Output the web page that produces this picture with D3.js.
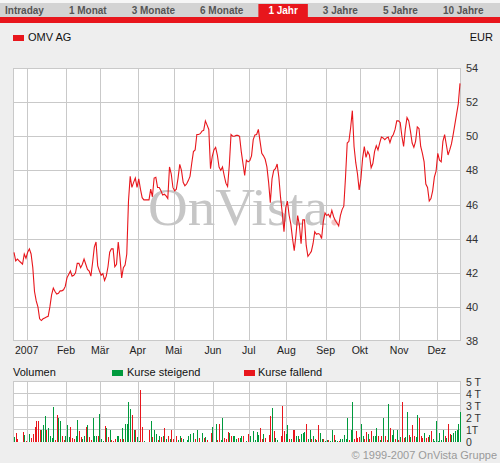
<!DOCTYPE html>
<html><head><meta charset="utf-8">
<script src="https://cdnjs.cloudflare.com/ajax/libs/d3/7.8.5/d3.min.js"></script>
<style>
body{margin:0;background:#eeeeee;}
svg{display:block;font-family:"Liberation Sans",Arial,sans-serif;}
</style></head>
<body><svg id="c" width="500" height="463"></svg>
<script>
// ---------- data ----------
const tabs = ["Intraday","1 Monat","3 Monate","6 Monate","1 Jahr","3 Jahre","5 Jahre","10 Jahre"];
const activeTab = "1 Jahr";
const seriesName = "OMV AG";
const currency = "EUR";
const monthLabels = ["2007","Feb","Mär","Apr","Mai","Jun","Jul","Aug","Sep","Okt","Nov","Dez"];
const priceTicks = [38,40,42,44,46,48,50,52,54];
const volTicks = [0,1,2,3,4,5];
const volTickLabels = ["0","1T","2 T","3 T","4 T","5 T"];
const volLegend = ["Volumen","Kurse steigend","Kurse fallend"];
const copyright = "© 1999-2007 OnVista Gruppe";
const firstDay = new Date(2006,11,20), lastDay = new Date(2007,11,20);

// closing prices, one per weekday (EUR)
const prices = [
43.2,42.7,42.8,42.7,42.6,42.5,43.1,42.85,43.2,43.4,
43.1,42.3,40.9,40.35,40.0,39.3,39.2,39.3,39.35,39.4,
39.45,40.0,40.7,41.1,40.9,40.75,40.8,40.94,40.94,41.0,
41.2,41.7,41.9,42.1,41.8,41.85,42.0,42.55,42.55,42.3,
42.5,42.8,42.5,42.2,42.1,41.8,42.6,43.5,43.8,42.4,
42.1,41.85,41.95,41.55,41.8,42.35,43.2,43.4,43.4,42.35,
42.5,43.8,42.9,41.7,42.3,42.45,43.1,46.2,47.65,47.0,
47.3,47.55,47.0,47.5,46.9,46.4,46.27,46.27,46.27,46.27,
46.9,46.45,47.55,47.6,47.0,47.0,46.8,46.55,46.6,46.5,
46.35,48.2,47.8,47.0,46.8,46.9,47.55,48.35,48.0,47.3,
47.1,47.2,47.4,47.65,48.4,49.1,49.2,50.1,50.1,50.15,
50.3,50.35,50.9,50.65,50.4,48.1,48.8,49.2,49.35,48.9,
48.2,48.0,48.2,47.7,47.25,47.05,48.3,50.1,50.0,50.0,
50.05,50.05,50.0,49.1,48.4,47.7,48.6,48.5,48.57,48.85,
49.8,50.08,50.1,50.4,49.7,49.0,48.85,48.65,48.2,47.3,
46.1,47.5,48.0,48.1,48.37,47.6,46.4,45.5,44.4,45.8,
46.2,45.37,44.85,44.0,43.3,44.2,45.35,44.8,43.7,45.1,
45.1,43.6,42.96,43.1,43.25,43.7,44.4,44.25,44.3,44.25,
44.0,45.0,45.5,45.35,45.42,45.25,45.65,45.3,45.06,44.92,
44.75,45.35,45.7,45.9,47.6,49.6,49.7,50.5,51.5,49.4,
48.45,47.8,46.85,47.5,48.7,49.4,48.76,49.1,48.9,48.15,
48.4,49.1,49.45,49.2,49.6,49.95,49.9,49.8,49.9,49.95,
49.63,49.95,50.1,50.4,50.9,50.9,50.8,50.0,49.4,50.4,
51.1,50.9,50.3,49.6,49.35,49.7,50.55,50.45,49.4,49.0,
48.5,47.2,47.0,46.2,46.35,46.8,47.6,47.95,49.0,48.6,
48.5,49.7,50.1,49.5,48.9,49.2,49.55,50.1,50.7,51.3,
51.9,53.1
];

// volume per weekday (millions, "T")
const volumes = [
0.36,0.72,0.2,0,0,0.8,0.53,0.05,0,0.6,
0.28,0.6,1.2,1.7,1.7,1.0,1.0,1.35,2.1,1.0,
1.1,0.5,0.3,2.85,0.1,2.2,1.95,1.7,0.5,0.1,
0.45,1.35,0.4,1.2,0.28,0.2,0.45,1.8,0.85,0.36,
0.2,0.45,1.2,1.35,0.36,0.1,1.95,0.5,0.45,0.5,
2.3,0.2,0.05,1.3,1.1,0.35,0.95,0.1,0.05,0.2,
0.45,0.45,0.2,1.1,0.2,1.45,1.5,3.3,2.7,2.2,
0.95,1.0,0.36,0.05,4.3,1.2,0.05,0,0,0.95,
1.7,0.36,0.95,0.6,0.1,0.45,0.36,0.45,1.1,0.2,
0.5,0.2,0.95,0.2,0,0.5,0.1,0.45,0.28,0.2,
0,0.1,0.45,0.6,0,0.7,0.2,0.95,0.28,0,
0.7,0.28,0.36,0.1,0,0.7,1.2,0,1.5,0.1,
1.45,0.1,2.0,0.28,0.2,0.78,0.7,0.45,0.45,0.45,
0.2,0.28,0.28,0.5,0.5,0,0.05,0.6,0.5,0,
0.85,0.1,0.78,0.53,1.1,0.2,0.6,0.28,0,0.53,
2.1,2.8,0.85,0.28,0.1,0,0.45,3.0,0.85,0.6,
1.35,0.2,0.2,1.0,1.0,0.45,0.45,0.2,0.6,0.7,
0.78,1.45,0.2,0.95,0.2,0.45,0.2,0.1,1.35,0.7,
0.2,0.2,0.05,0.1,0.1,0.05,1.0,0.53,0.1,0.05,
0.05,0.2,0.2,0.53,0.2,1.95,0.1,1.0,3.3,0.2,
0.85,0.28,0.36,1.5,0.45,0.2,0.78,0.6,0.2,0.85,
0.45,0.45,1.1,0.45,0.1,0.45,2.0,0.45,0.1,3.1,
1.1,0.53,1.0,0.2,1.0,0.1,0.36,3.3,0.28,0.36,
2.45,0.53,0.36,1.35,0.45,0.36,2.2,1.95,0.5,0.28,
0.7,0.28,0.36,0.53,0.85,0.2,0.05,1.7,0.05,0.7,
0.1,1.0,0.45,0.28,1.45,0.6,0.53,0.7,0.85,0.95,
1.5,2.5
];
// g = Kurse steigend, r = Kurse fallend
const volDir = (
"grr..rgr.g"+"rrrrrrgggr"+"ggggrrggrr"+"gggrrrggrr"+"ggrgrrgggr"+
"gggrgrgrrr"+"ggrgrggggr"+"grggrrg..r"+"grggrgrgrg"+"rgrr.rggrg"+
".ggg.grgr."+"grgr.rg.gr"+"rggrrrgrgg"+"grggr.grg."+"ggggrrgr.r"+
"rgrgg.rrrg"+"grgrrggrgg"+"grggrgrgrg"+"grggrggrgg"+"rgggggrggr"+
"rrrggrrgrr"+"gggrgrgrrg"+"rggrgrgrrg"+"grgrrggrrr"+"grrgrggggg"+
"ggrgrrgggg"+"gg").split("");

// ---------- drawing ----------
const RED = "#e8161c", GREEN = "#009a3d", GRID = "#c9c9c9";
const svg = d3.select("#c");

const days = d3.timeDay.range(firstDay, d3.timeDay.offset(lastDay,1)).filter(d => d.getDay()%6 !== 0);
const x = d3.scaleLinear().domain([0, days.length-1]).range([14, 460]);
const y = d3.scaleLinear().domain([38,54]).range([341,68]);
const yv = d3.scaleLinear().domain([0,5]).range([441.5,381.5]);
const monthIdx = [];
days.forEach((d,i)=>{ if(d.getFullYear()===2007 && (i===0 || d.getMonth()!==days[i-1].getMonth())) monthIdx.push(i); });
const px = v => Math.round(v)+0.5;

// tab bar
svg.append("rect").attr("x",0).attr("y",0).attr("width",500).attr("height",3).attr("fill","#f6f6f6");
svg.append("rect").attr("x",0).attr("y",3).attr("width",500).attr("height",14).attr("fill","#d3d3d3");
svg.append("rect").attr("x",0).attr("y",17).attr("width",500).attr("height",6).attr("fill",RED);
const tabG = svg.append("g");
let tx = 5;
tabs.forEach(t=>{
  const txt = tabG.append("text").attr("x",tx).attr("y",14).attr("font-size",10).attr("font-weight","bold")
    .attr("fill", t===activeTab ? "#ffffff" : "#555555").text(t);
  const w = txt.node().getComputedTextLength();
  if(t===activeTab){
    tabG.insert("rect","text").attr("x",tx-10).attr("y",4).attr("width",w+20).attr("height",14).attr("fill",RED);
  }
  tx += w + 25;
});

// legend
svg.append("rect").attr("x",13).attr("y",35).attr("width",11).attr("height",6).attr("fill",RED);
svg.append("text").attr("x",28).attr("y",41).attr("font-size",11).attr("fill","#111").text(seriesName);
svg.append("text").attr("x",493).attr("y",41).attr("font-size",11).attr("fill","#111").attr("text-anchor","end").text(currency);

// price plot
svg.append("rect").attr("x",13.5).attr("y",68.5).attr("width",447).attr("height",272).attr("fill","#fff").attr("stroke",GRID);
const grid = svg.append("g").attr("stroke",GRID).attr("stroke-width",1).attr("shape-rendering","crispEdges");
grid.selectAll(".h").data(priceTicks.slice(1,-1)).join("line")
  .attr("x1",13).attr("x2",461).attr("y1",d=>px(y(d))).attr("y2",d=>px(y(d)));
grid.selectAll(".v").data(monthIdx).join("line")
  .attr("x1",d=>px(x(d)-1)).attr("x2",d=>px(x(d)-1)).attr("y1",68).attr("y2",341);

// watermark
const wm = svg.append("text").attr("x",148).attr("y",225).attr("font-family","'Liberation Serif','Times New Roman',serif")
  .attr("font-size",52).attr("fill","#c6c6c6");
wm.append("tspan").attr("textLength",180).attr("lengthAdjust","spacingAndGlyphs").text("OnVista");
wm.append("tspan").attr("fill","#f2c6c6").text(".");

// price line
svg.append("path").datum(prices).attr("fill","none").attr("stroke",RED).attr("stroke-width",1.1)
  .attr("d", d3.line().x((d,i)=>x(i)).y(d=>y(d)));

// y labels
svg.selectAll(".yl").data(priceTicks).join("text").attr("x",466).attr("y",d=>y(d)+4)
  .attr("font-size",11).attr("fill","#333").text(d=>d);
// x labels
svg.selectAll(".xl").data(monthIdx).join("text").attr("x",d=>x(d)-1).attr("y",354)
  .attr("font-size",10.5).attr("fill","#222").attr("text-anchor","middle").text((d,i)=>monthLabels[i]);

// volume legend
svg.append("text").attr("x",13).attr("y",376).attr("font-size",11).attr("fill","#111").text(volLegend[0]);
svg.append("rect").attr("x",112).attr("y",370).attr("width",11).attr("height",6).attr("fill",GREEN);
svg.append("text").attr("x",127).attr("y",376).attr("font-size",11).attr("fill","#111").text(volLegend[1]);
svg.append("rect").attr("x",244).attr("y",370).attr("width",11).attr("height",6).attr("fill",RED);
svg.append("text").attr("x",258).attr("y",376).attr("font-size",11).attr("fill","#111").text(volLegend[2]);

// volume panel
svg.append("rect").attr("x",13).attr("y",381).attr("width",448).attr("height",61).attr("fill","#fff");
const vgrid = svg.append("g").attr("stroke",GRID).attr("shape-rendering","crispEdges");
vgrid.append("line").attr("x1",13).attr("x2",461).attr("y1",381.5).attr("y2",381.5);
vgrid.append("line").attr("x1",13.5).attr("x2",13.5).attr("y1",381).attr("y2",442);
vgrid.append("line").attr("x1",460.5).attr("x2",460.5).attr("y1",381).attr("y2",442);
vgrid.selectAll(".h").data(volTicks.slice(1,-1)).join("line")
  .attr("x1",13).attr("x2",461).attr("y1",d=>Math.round(yv(d))-0.5).attr("y2",d=>Math.round(yv(d))-0.5);
vgrid.selectAll(".v").data(monthIdx).join("line")
  .attr("x1",d=>px(x(d)-1)).attr("x2",d=>px(x(d)-1)).attr("y1",381).attr("y2",442);

svg.append("g").attr("shape-rendering","crispEdges").selectAll("rect").data(volumes).join("rect")
  .attr("x",(d,i)=>Math.round(x(i))).attr("width",1)
  .attr("y",d=>yv(d)).attr("height",d=>yv(0)-yv(d))
  .attr("fill",(d,i)=>volDir[i]==="r"?RED:GREEN)
  .attr("display",(d,i)=>volDir[i]==="."?"none":null);

svg.selectAll(".vl").data(volTicks).join("text").attr("x",466).attr("y",d=>yv(d)+4)
  .attr("font-size",10.5).attr("fill","#333").text((d,i)=>volTickLabels[i]);

svg.append("text").attr("x",497).attr("y",459).attr("font-size",11).attr("fill","#9a9a9a")
  .attr("text-anchor","end").text(copyright);
</script></body></html>
